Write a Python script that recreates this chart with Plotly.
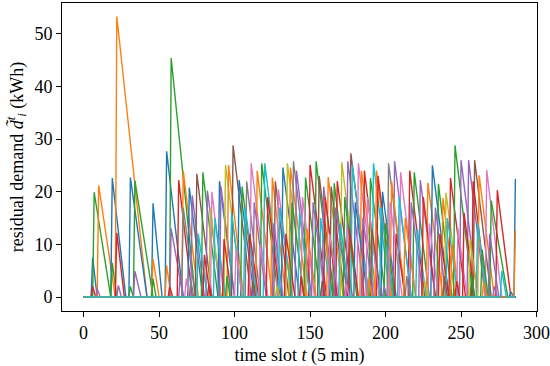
import plotly.graph_objects as go

# Each EV spike: arrival/peak slot, peak residual demand (kWh), slot where it reaches 0
peak_t = [6, 7, 6, 10, 9, 19, 19, 22, 22, 23, 31, 31, 34, 34, 46, 46, 46, 55, 55, 58,
          58, 57, 63, 66, 66, 70, 72, 75, 79, 82, 84, 85, 90, 91, 94, 96, 99, 103, 105, 108,
          111, 115, 118, 120, 125, 127, 129, 132, 135, 137, 139, 141, 147, 150, 154, 156, 159, 162, 164, 166,
          168, 171, 175, 177, 178, 182, 184, 186, 190, 192, 194, 195, 198, 202, 206, 204, 210, 216, 219, 223,
          228, 231, 235, 238, 240, 243, 246, 250, 255, 259, 258, 262, 267, 270, 274,
          64, 68, 76, 80, 87, 93, 98, 101, 107, 110, 113, 117, 122, 126, 130, 134, 138, 143, 145, 148,
          152, 157, 160, 163, 167, 170, 173, 176, 180, 185, 188, 191, 197, 200, 203, 207, 209, 213, 217, 221,
          225, 229, 233, 236, 241, 244, 248, 252, 256, 261, 264, 269,
          71, 83, 95, 112, 128, 144, 158, 174, 189, 199, 214, 226, 239, 247, 257, 265, 272, 283,
          286, 286, 277]
peak_v = [7.5, 19.9, 2.0, 21.2, 1.5, 22.6, 6.5, 53.3, 12.2, 2.2, 22.7, 2.0, 22.1, 4.9, 17.8, 7.2, 3.5, 27.7, 6.0, 45.4,
          13.0, 2.0, 22.2, 24.0, 17.0, 20.8, 19.3, 23.4, 23.7, 20.2, 17.0, 20.0, 22.0, 21.0, 25.1, 25.1, 28.8, 22.2, 21.0, 22.0,
          25.4, 24.0, 25.4, 25.4, 22.7, 22.0, 20.5, 24.6, 25.4, 24.6, 25.8, 24.0, 22.7, 25.1, 25.8, 23.0, 21.0, 22.8, 21.0, 21.6,
          22.0, 25.6, 25.8, 27.3, 25.0, 25.4, 24.0, 24.0, 22.6, 25.4, 24.0, 23.0, 20.0, 25.4, 25.8, 22.0, 23.7, 24.0, 23.7, 22.2,
          21.7, 25.0, 21.5, 18.8, 19.8, 22.6, 28.8, 26.0, 26.0, 26.0, 22.0, 23.1, 24.1, 18.3, 20.3,
          4.0, 3.5, 12.0, 8.0, 15.0, 11.0, 16.0, 9.0, 17.0, 12.0, 18.0, 10.0, 19.0, 14.0, 17.0, 12.0, 18.0, 16.0, 19.0, 13.0,
          18.0, 15.0, 19.0, 12.0, 17.0, 14.0, 19.0, 13.0, 18.0, 15.0, 19.0, 13.0, 17.0, 14.0, 18.0, 12.0, 19.0, 15.0, 18.0, 13.0,
          19.0, 14.0, 17.0, 12.0, 15.0, 10.0, 13.0, 16.0, 11.0, 14.0, 9.0, 12.0,
          3.0, 2.5, 4.0, 3.0, 2.0, 4.0, 3.0, 2.5, 3.5, 2.0, 4.0, 3.0, 4.0, 3.0, 4.0, 3.0, 2.0, 1.0,
          22.4, 12.7, 5.0]
end_t = [9, 18, 8, 21, 11, 28, 22, 42, 27, 25, 42, 33, 46, 38, 52, 50, 48, 66, 58, 74,
         66, 59, 72, 76, 74, 79, 80, 85, 89, 91, 91, 93, 100, 100, 105, 106, 111, 113, 114, 117,
         122, 125, 129, 131, 134, 136, 138, 143, 146, 148, 150, 151, 157, 161, 165, 166, 168, 172, 173, 175,
         178, 182, 186, 189, 189, 193, 194, 196, 200, 203, 204, 205, 207, 213, 217, 213, 220, 226, 229, 233,
         238, 242, 244, 246, 249, 253, 258, 261, 266, 270, 267, 272, 277, 281, 283,
         66, 70, 82, 84, 94, 98, 105, 105, 115, 116, 121, 122, 130, 132, 138, 140, 146, 150, 153, 154,
         160, 164, 168, 169, 175, 176, 181, 182, 188, 192, 196, 197, 205, 206, 211, 213, 217, 220, 225, 227,
         233, 235, 240, 242, 248, 249, 254, 259, 261, 267, 268, 275,
         73, 85, 97, 114, 130, 146, 160, 176, 191, 201, 216, 228, 241, 249, 259, 267, 274, 285,
         None, None, 280]

# style: tab10 colour index per spike
color_idx = [0, 2, 3, 1, 4, 0, 2, 1, 3, 4, 0, 2, 2, 4, 0, 1, 2, 0, 1, 2,
             4, 3, 3, 1, 7, 0, 4, 5, 2, 4, 8, 6, 0, 4, 8, 1, 5, 0, 2, 7,
             6, 1, 2, 9, 1, 5, 6, 0, 8, 1, 7, 4, 2, 3, 2, 5, 4, 1, 5, 2,
             3, 8, 4, 5, 9, 6, 1, 3, 2, 9, 1, 3, 0, 7, 4, 1, 6, 3, 2, 4,
             1, 0, 2, 1, 8, 3, 2, 4, 4, 5, 3, 1, 6, 2, 3,
             4, 6, 9, 3, 9, 3, 9, 6, 9, 3, 4, 6, 3, 4, 9, 3, 2, 9, 6, 1,
             4, 9, 3, 6, 4, 9, 2, 3, 0, 4, 6, 5, 9, 2, 6, 3, 9, 1, 4, 9,
             3, 6, 4, 3, 9, 1, 6, 3, 8, 9, 2, 4,
             7, 3, 2, 5, 8, 3, 5, 6, 1, 4, 7, 8, 5, 3, 2, 1, 4, 0,
             0, 1, 9]

T_LAST = 286
tab10 = ['#1f77b4', '#ff7f0e', '#2ca02c', '#d62728', '#9467bd',
         '#8c564b', '#e377c2', '#7f7f7f', '#bcbd22', '#17becf']

fig = go.Figure()
for pt, pv, et, ci in zip(peak_t, peak_v, end_t, color_idx):
    if et is None:
        xs = [0, pt - 1, pt]
        ys = [0, 0, pv]
    else:
        xs = [0, pt - 1, pt, et, T_LAST]
        ys = [0, 0, pv, 0, 0]
    fig.add_trace(go.Scatter(x=xs, y=ys, mode='lines',
                             line=dict(color=tab10[ci], width=1.4),
                             showlegend=False, hoverinfo='skip'))

font = dict(family='Liberation Serif, DejaVu Serif, serif', size=18, color='black')
fig.update_layout(
    width=550, height=366,
    margin=dict(l=62, r=13, t=3, b=55, pad=0, autoexpand=False),
    paper_bgcolor='white', plot_bgcolor='white',
    font=font,
    showlegend=False,
)
fig.update_xaxes(range=[-14.3, 300.3], tickvals=[0, 50, 100, 150, 200, 250, 300],
                 showgrid=False, zeroline=False, showline=True, mirror=True,
                 linecolor='black', linewidth=1, ticks='outside', ticklen=5,
                 tickwidth=1, tickcolor='black', automargin=False, tickfont=font,
                 ticklabeloverflow='allow',
                 title=dict(text='time slot <i>t</i> (5 min)', standoff=7, font=font))
fig.update_yaxes(range=[-2.66, 55.86], tickvals=[0, 10, 20, 30, 40, 50],
                 showgrid=False, zeroline=False, showline=True, mirror=True,
                 linecolor='black', linewidth=1, ticks='outside', ticklen=5,
                 tickwidth=1, tickcolor='black', automargin=False, tickfont=font,
                 ticklabeloverflow='allow',
                 title=dict(text='residual demand <i>d̃</i><sup><i>t</i></sup><sub><i>i</i></sub> (kWh)',
                            standoff=6, font=font))

fig.write_html('out.html', config={'displayModeBar': False},
               post_script="document.body.style.margin='0';document.body.style.padding='0';")
